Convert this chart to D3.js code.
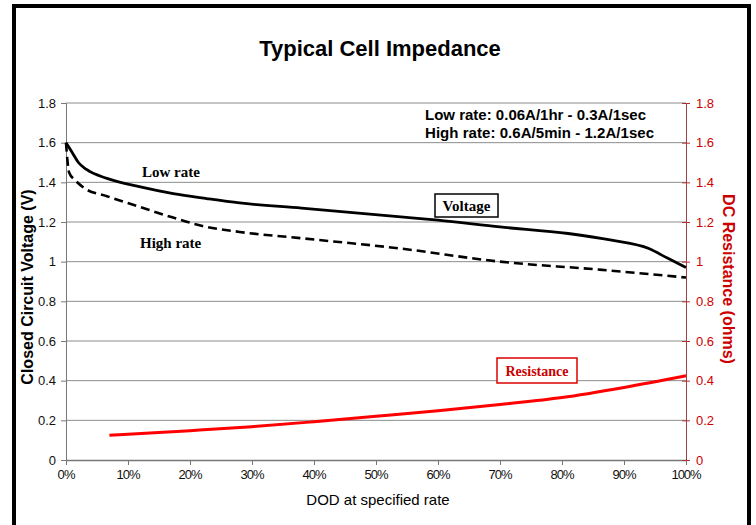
<!DOCTYPE html>
<html>
<head>
<meta charset="utf-8">
<script src="https://cdn.jsdelivr.net/npm/d3@7"></script>
<style>
  body { margin: 0; background: #fff; }
  svg { display: block; }
</style>
</head>
<body>
<div id="chart"></div>
<script>
// DOD (%) and values
var lowDod   = [0, 1, 2, 3.3, 6.6, 12, 17.3, 22.7, 28, 38, 54, 60, 70, 81, 88, 94, 97, 100];
var lowVolt  = [1.6, 1.55, 1.5, 1.465, 1.42, 1.377, 1.343, 1.318, 1.296, 1.27, 1.226, 1.209, 1.175, 1.142, 1.108, 1.066, 1.018, 0.971];
var highDod  = [0, 0.5, 1.5, 3, 6.6, 12, 17, 22, 28, 38, 54, 70, 86, 100];
var highVolt = [1.6, 1.45, 1.41, 1.37, 1.33, 1.275, 1.225, 1.18, 1.15, 1.118, 1.066, 1.0, 0.96, 0.92];
var resDod   = [7, 10, 20, 30, 40, 50, 60, 70, 80, 90, 100];
var resOhms  = [0.125, 0.13, 0.148, 0.168, 0.193, 0.22, 0.248, 0.28, 0.315, 0.366, 0.425];
var xTicks = [0, 10, 20, 30, 40, 50, 60, 70, 80, 90, 100];
var yTicks = [0, 0.2, 0.4, 0.6, 0.8, 1, 1.2, 1.4, 1.6, 1.8];

var width = 756, height = 525;
var margin = {top: 103, left: 66, right: 70, bottom: 65};

var svg = d3.select('#chart').append('svg')
    .attr('width', width).attr('height', height);

// outer frame
svg.append('path')
    .attr('d', 'M14,530 L14,6 L749,6 L749,530')
    .attr('fill', 'none').attr('stroke', '#000').attr('stroke-width', 4);

var x = d3.scaleLinear().domain([0, 100]).range([margin.left, width - margin.right]);
var y = d3.scaleLinear().domain([0, 1.8]).range([height - margin.bottom, margin.top]);

// gridlines
svg.append('g').selectAll('line')
    .data(yTicks.filter(function(d) { return d > 0; }))
    .enter().append('line')
    .attr('x1', x(0)).attr('x2', x(100))
    .attr('y1', function(d) { return y(d); }).attr('y2', function(d) { return y(d); })
    .attr('stroke', '#8c8c8c').attr('stroke-width', 1);

var tickFont = 'Liberation Sans, Arial, sans-serif';

// left axis
var left = svg.append('g')
    .attr('transform', 'translate(' + x(0) + ',0)')
    .call(d3.axisLeft(y).tickValues(yTicks).tickSize(5).tickPadding(5)
        .tickFormat(function(d) { return d3.format('~g')(d); }));
left.selectAll('text').style('font-family', tickFont).style('font-size', '13px').attr('fill', '#111');
left.selectAll('line, path').attr('stroke', '#777');

// bottom axis
var bottom = svg.append('g')
    .attr('transform', 'translate(0,' + y(0) + ')')
    .call(d3.axisBottom(x).tickValues(xTicks).tickSize(5).tickSizeOuter(0).tickPadding(5)
        .tickFormat(function(d) { return d + '%'; }));
bottom.selectAll('text').style('font-family', tickFont).style('font-size', '13px').attr('fill', '#111')
    .attr('textLength', function(d) { return d === 100 ? 30 : (d === 0 ? 18 : 24); });
bottom.selectAll('line').attr('stroke', '#777');
bottom.select('path').attr('stroke', '#777').attr('stroke-width', 1.5);

// right axis
var right = svg.append('g')
    .attr('transform', 'translate(' + x(100) + ',0)')
    .call(d3.axisRight(y).tickValues(yTicks).tickSize(4).tickSizeOuter(0).tickPadding(6)
        .tickFormat(function(d) { return d3.format('~g')(d); }));
right.selectAll('text').style('font-family', tickFont).style('font-size', '13px').attr('fill', '#cc0000');
right.selectAll('.tick line').attr('stroke', '#b03030').attr('x1', -4);
right.select('path').attr('stroke', '#a04040');

// lines
var line = d3.line()
    .x(function(d) { return x(d[0]); })
    .y(function(d) { return y(d[1]); })
    .curve(d3.curveMonotoneX);

svg.append('path')
    .datum(d3.zip(highDod, highVolt))
    .attr('d', line)
    .attr('fill', 'none').attr('stroke', '#000').attr('stroke-width', 2.6)
    .attr('stroke-dasharray', '9,5');

svg.append('path')
    .datum(d3.zip(lowDod, lowVolt))
    .attr('d', line)
    .attr('fill', 'none').attr('stroke', '#000').attr('stroke-width', 2.8);

svg.append('path')
    .datum(d3.zip(resDod, resOhms))
    .attr('d', line)
    .attr('fill', 'none').attr('stroke', '#ff0000').attr('stroke-width', 3);

// title
svg.append('text')
    .attr('x', 380).attr('y', 56)
    .attr('text-anchor', 'middle')
    .style('font-family', tickFont).style('font-weight', 'bold').style('font-size', '22px')
    .text('Typical Cell Impedance');

// axis titles
svg.append('text')
    .attr('transform', 'translate(33,287) rotate(-90)')
    .attr('text-anchor', 'middle')
    .style('font-family', tickFont).style('font-weight', 'bold').style('font-size', '16px')
    .text('Closed Circuit Voltage  (V)');

svg.append('text')
    .attr('transform', 'translate(723,279) rotate(90)')
    .attr('text-anchor', 'middle')
    .attr('fill', '#cc0000')
    .style('font-family', tickFont).style('font-weight', 'bold').style('font-size', '16px')
    .text('DC Resistance (ohms)');

svg.append('text')
    .attr('x', 378).attr('y', 505)
    .attr('text-anchor', 'middle')
    .style('font-family', tickFont).style('font-size', '15px')
    .text('DOD at specified rate');

// rate notes
svg.append('text')
    .attr('x', 425).attr('y', 120)
    .style('font-family', tickFont).style('font-weight', 'bold').style('font-size', '15px')
    .attr('textLength', 221)
    .text('Low rate: 0.06A/1hr - 0.3A/1sec');
svg.append('text')
    .attr('x', 425).attr('y', 138)
    .style('font-family', tickFont).style('font-weight', 'bold').style('font-size', '15px')
    .attr('textLength', 229)
    .text('High rate: 0.6A/5min - 1.2A/1sec');

var serif = 'Liberation Serif, Times New Roman, serif';

svg.append('text')
    .attr('x', 142).attr('y', 177)
    .style('font-family', serif).style('font-weight', 'bold').style('font-size', '15px')
    .text('Low rate');
svg.append('text')
    .attr('x', 140).attr('y', 248)
    .style('font-family', serif).style('font-weight', 'bold').style('font-size', '15px')
    .text('High rate');

// boxed labels
svg.append('rect')
    .attr('x', 435).attr('y', 194).attr('width', 63).attr('height', 23)
    .attr('fill', '#fff').attr('stroke', '#000').attr('stroke-width', 1.5);
svg.append('text')
    .attr('x', 466.5).attr('y', 211)
    .attr('text-anchor', 'middle')
    .style('font-family', serif).style('font-weight', 'bold').style('font-size', '15px')
    .text('Voltage');

svg.append('rect')
    .attr('x', 497).attr('y', 358).attr('width', 80).attr('height', 25)
    .attr('fill', '#fff').attr('stroke', '#dd0000').attr('stroke-width', 1.5);
svg.append('text')
    .attr('x', 537).attr('y', 376)
    .attr('text-anchor', 'middle')
    .attr('fill', '#cc0000')
    .style('font-family', serif).style('font-weight', 'bold').style('font-size', '14px')
    .text('Resistance');
</script>
</body>
</html>
